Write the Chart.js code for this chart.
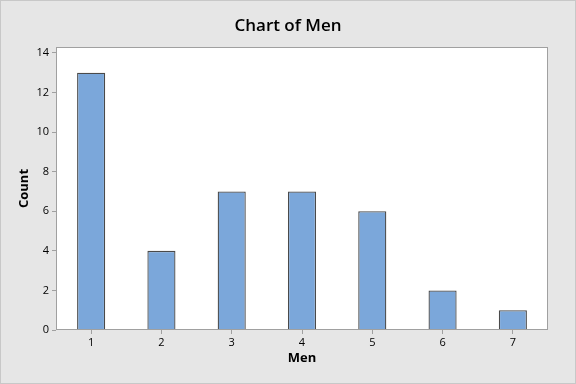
<!DOCTYPE html>
<html><head><meta charset="utf-8">
<script src="https://cdn.jsdelivr.net/npm/chart.js@4/dist/chart.umd.min.js"></script>
<style>
html,body{margin:0;padding:0;background:#e6e6e6;}
#wrap{width:576px;height:384px;position:relative;}
</style></head>
<body><div id="wrap"><canvas id="c" width="576" height="384"></canvas></div>
<script>
const categories = ['1','2','3','4','5','6','7'];
const counts = [13, 4, 7, 7, 6, 2, 1];
const yTicks = [0, 2, 4, 6, 8, 10, 12, 14];
const chartTitle = 'Chart of Men';

const bgPlugin = {
  id: 'bg',
  beforeDraw(chart) {
    const ctx = chart.ctx, a = chart.chartArea;
    ctx.save();
    ctx.fillStyle = '#e6e6e6';
    ctx.fillRect(0, 0, chart.width, chart.height);
    ctx.strokeStyle = '#c8c8c8';
    ctx.lineWidth = 1;
    ctx.strokeRect(0.5, 0.5, chart.width - 1, chart.height - 1);
    ctx.fillStyle = '#ffffff';
    ctx.fillRect(a.left, a.top, a.right - a.left, a.bottom - a.top);
    ctx.restore();
  },
  afterDraw(chart) {
    const ctx = chart.ctx, a = chart.chartArea;
    ctx.save();
    ctx.strokeStyle = '#a0a0a0';
    ctx.lineWidth = 1;
    ctx.strokeRect(Math.round(a.left) + 0.5, Math.round(a.top) + 0.5, Math.round(a.right - a.left) - 1, Math.round(a.bottom - a.top) - 1);
    ctx.fillStyle = '#000000';
    ctx.font = '600 17px "Open Sans"';
    ctx.textAlign = 'center';
    ctx.textBaseline = 'middle';
    ctx.fillText(chartTitle, chart.width / 2, 26);
    ctx.restore();
  }
};

new Chart(document.getElementById('c'), {
  type: 'bar',
  data: {
    labels: categories,
    datasets: [{
      data: counts,
      backgroundColor: '#7ba7da',
      borderColor: '#4a4a4a',
      borderWidth: 1.3,
      barPercentage: 0.4,
      categoryPercentage: 1.0
    }]
  },
  options: {
    responsive: false,
    animation: false,
    events: [],
    layout: { padding: { left: 0, right: 28, top: 47, bottom: 0 } },
    plugins: {
      legend: { display: false },
      tooltip: { enabled: false },
      title: { display: false }
    },
    scales: {
      x: {
        offset: true,
        grid: { display: true, offset: false, drawOnChartArea: false, drawTicks: true, tickLength: 4, color: '#a0a0a0' },
        border: { display: false },
        ticks: { color: '#000000', font: { family: 'Open Sans', size: 11 }, padding: 2, maxRotation: 0 },
        title: { display: true, text: 'Men', color: '#000000', font: { family: 'Open Sans', size: 13, weight: 'bold' }, padding: { top: 0, bottom: 18 } },
        afterFit(scale) { scale.height = 54; }
      },
      y: {
        min: 0,
        max: 14.3,
        afterBuildTicks(scale) { scale.ticks = yTicks.map(v => ({ value: v })); },
        grid: { display: true, drawOnChartArea: false, drawTicks: true, tickLength: 4, color: '#a0a0a0' },
        border: { display: false },
        ticks: { color: '#000000', font: { family: 'Open Sans', size: 11 }, padding: 3 },
        title: { display: true, text: 'Count', color: '#000000', font: { family: 'Open Sans', size: 13, weight: 'bold' }, padding: { top: 16, bottom: 0 } },
        afterFit(scale) { scale.width = 56; }
      }
    }
  },
  plugins: [bgPlugin]
});
</script>
</body></html>
